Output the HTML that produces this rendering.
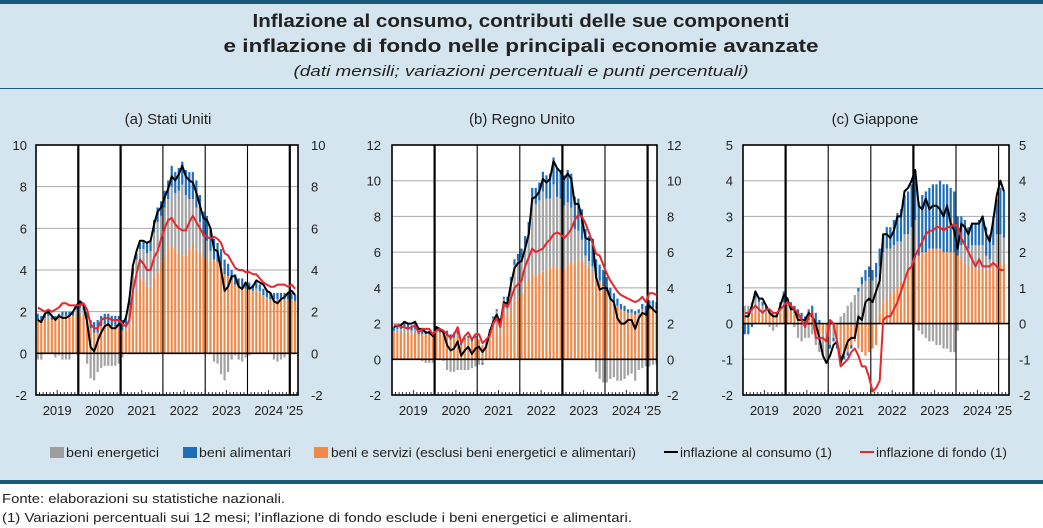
<!DOCTYPE html>
<html><head><meta charset="utf-8"><style>
body{margin:0;background:#fff;}
svg{display:block;font-family:"Liberation Sans",sans-serif;}
</style></head><body>
<svg id="chart" width="1043" height="528" viewBox="0 0 1043 528" xmlns="http://www.w3.org/2000/svg">
<rect x="0" y="0" width="1043" height="482" fill="#d5e5ef"/>
<rect x="0" y="0" width="1043" height="4" fill="#1b5a7a"/>
<rect x="0" y="88" width="1043" height="1" fill="#1b5a7a"/>
<rect x="0" y="480" width="1043" height="4" fill="#1b5a7a"/>
<text x="521" y="27" text-anchor="middle" font-weight="bold" font-size="18" textLength="537" lengthAdjust="spacingAndGlyphs" fill="#222">Inflazione al consumo, contributi delle sue componenti</text>
<text x="521" y="52" text-anchor="middle" font-weight="bold" font-size="18" textLength="595" lengthAdjust="spacingAndGlyphs" fill="#222">e inflazione di fondo nelle principali economie avanzate</text>
<text x="521" y="76" text-anchor="middle" font-style="italic" font-size="15" textLength="455" lengthAdjust="spacingAndGlyphs" fill="#222">(dati mensili; variazioni percentuali e punti percentuali)</text>
<g id="panels"></g>
<g>
<rect x="50" y="447" width="14" height="11" fill="#9e9e9e"/>
<text x="66" y="457" font-size="13" textLength="93" lengthAdjust="spacingAndGlyphs" fill="#222">beni energetici</text>
<rect x="183" y="447" width="14" height="11" fill="#1f6fb8"/>
<text x="199" y="457" font-size="13" textLength="92" lengthAdjust="spacingAndGlyphs" fill="#222">beni alimentari</text>
<rect x="314" y="447" width="14" height="11" fill="#f08a4b"/>
<text x="331" y="457" font-size="13" textLength="305" lengthAdjust="spacingAndGlyphs" fill="#222">beni e servizi (esclusi beni energetici e alimentari)</text>
<rect x="664" y="451" width="14" height="2" fill="#000"/>
<text x="680" y="457" font-size="13" textLength="152" lengthAdjust="spacingAndGlyphs" fill="#222">inflazione al consumo (1)</text>
<rect x="860" y="451" width="14" height="2" fill="#e8262e"/>
<text x="876" y="457" font-size="13" textLength="131" lengthAdjust="spacingAndGlyphs" fill="#222">inflazione di fondo (1)</text>
</g>
<text x="2" y="503" font-size="13" textLength="283" lengthAdjust="spacingAndGlyphs" fill="#222">Fonte: elaborazioni su statistiche nazionali.</text>
<text x="2" y="522" font-size="13" textLength="630" lengthAdjust="spacingAndGlyphs" fill="#222">(1) Variazioni percentuali sui 12 mesi; l’inflazione di fondo esclude i beni energetici e alimentari.</text>
</svg>
<script>
const yearLabels = ["2019","2020","2021","2022","2023","2024","'25"];
const panelTitles = ["(a) Stati Uniti","(b) Regno Unito","(c) Giappone"];
const yTicksUS = [-2,0,2,4,6,8,10];
const yTicksUK = [-2,0,2,4,6,8,10,12];
const yTicksJP = [-2,-1,0,1,2,3,4,5];

const usHeadline = [1.6,1.5,1.9,2.0,1.8,1.6,1.8,1.7,1.7,1.8,2.0,2.3, 2.5,2.3,1.5,0.3,0.1,0.6,1.0,1.3,1.4,1.2,1.2,1.4, 1.4,1.7,2.6,4.2,4.9,5.4,5.4,5.3,5.4,6.2,6.8,7.0, 7.5,7.9,8.5,8.3,8.6,9.0,8.5,8.3,8.2,7.7,7.1,6.5, 6.4,6.0,5.0,4.9,4.0,3.0,3.2,3.7,3.7,3.2,3.1,3.4, 3.1,3.2,3.5,3.4,3.3,3.0,2.9,2.5,2.4,2.6,2.7,2.9, 3.0,2.8];
const usCore = [2.2,2.1,2.0,2.1,2.0,2.1,2.2,2.4,2.4,2.3,2.3,2.3, 2.3,2.4,2.1,1.4,1.2,1.2,1.6,1.7,1.7,1.6,1.6,1.6, 1.4,1.3,1.6,3.0,3.8,4.5,4.3,4.0,4.0,4.6,4.9,5.5, 6.0,6.4,6.5,6.2,6.0,5.9,5.9,6.3,6.6,6.3,6.0,5.7, 5.6,5.5,5.6,5.5,5.3,4.8,4.7,4.4,4.1,4.0,4.0,3.9, 3.9,3.8,3.8,3.6,3.4,3.3,3.2,3.2,3.3,3.3,3.3,3.2, 3.3,3.1];
const usCoreContrib = [1.6,1.6,1.6,1.6,1.6,1.6,1.7,1.8,1.8,1.8,1.8,1.8, 1.8,1.9,1.7,1.2,1.0,1.0,1.3,1.4,1.4,1.3,1.3,1.3, 1.1,1.1,1.3,2.4,3.0,3.6,3.5,3.2,3.2,3.7,3.9,4.4, 4.8,5.1,5.2,5.0,4.8,4.7,4.7,5.0,5.3,5.0,4.8,4.6, 4.5,4.4,4.5,4.4,4.2,3.8,3.7,3.5,3.3,3.2,3.2,3.1, 3.1,3.0,3.0,2.9,2.7,2.6,2.6,2.6,2.6,2.6,2.6,2.6, 2.6,2.5];
const usEnergy = [-0.3,-0.3,0.1,0.2,0.0,-0.2,-0.1,-0.3,-0.3,-0.3,0.0,0.3, 0.4,0.2,-0.5,-1.2,-1.3,-0.9,-0.7,-0.6,-0.6,-0.6,-0.6,-0.5, -0.2,0.3,1.0,1.4,1.5,1.4,1.5,1.6,1.7,2.1,2.4,2.2, 2.2,2.3,2.8,2.7,3.0,3.4,2.9,2.4,2.1,2.0,1.5,1.0, 0.9,0.5,-0.4,-0.5,-1.0,-1.3,-0.9,-0.3,-0.1,-0.3,-0.4,-0.2, -0.1,0.0,0.1,0.1,0.1,0.1,0.0,-0.3,-0.4,-0.3,-0.2,0.0, 0.0,0.0];
const usFood = [0.3,0.2,0.2,0.2,0.2,0.2,0.2,0.2,0.2,0.2,0.2,0.2, 0.2,0.2,0.3,0.4,0.5,0.6,0.5,0.5,0.5,0.5,0.5,0.5, 0.5,0.4,0.4,0.3,0.3,0.3,0.4,0.5,0.5,0.6,0.7,0.7, 0.8,0.9,1.0,1.0,1.1,1.1,1.2,1.3,1.3,1.3,1.3,1.2, 1.2,1.1,1.0,0.9,0.8,0.7,0.6,0.5,0.5,0.4,0.4,0.3, 0.3,0.3,0.3,0.3,0.3,0.3,0.3,0.3,0.3,0.3,0.3,0.3, 0.3,0.3];

const ukHeadline = [1.8,1.9,1.9,2.1,2.0,2.0,2.1,1.7,1.7,1.5,1.5,1.3, 1.8,1.7,1.5,0.8,0.5,0.6,1.0,0.2,0.5,0.7,0.3,0.6, 0.7,0.4,0.7,1.5,2.1,2.5,2.0,3.2,3.1,4.2,5.1,5.4, 5.5,6.2,7.0,9.0,9.1,9.4,10.1,9.9,10.1,11.1,10.7,10.5, 10.1,10.4,10.1,8.7,8.7,7.9,6.8,6.7,6.7,4.6,3.9,4.0, 4.0,3.4,3.2,2.3,2.0,2.0,2.2,2.2,1.7,2.3,2.6,2.5, 3.0,2.8,2.6];
const ukCore = [1.9,1.9,1.8,1.8,1.7,1.8,1.9,1.5,1.7,1.7,1.7,1.4, 1.6,1.7,1.6,1.4,1.2,1.4,1.8,0.9,1.3,1.5,1.1,1.4, 1.4,0.9,1.1,1.3,2.0,2.3,1.8,3.1,2.9,3.4,4.0,4.2, 4.4,5.2,5.7,6.2,6.0,6.1,6.2,6.5,6.7,7.0,7.1,7.0, 6.8,7.0,7.3,7.8,8.1,8.0,7.6,7.1,6.5,5.9,5.8,5.3, 4.8,4.4,4.1,3.8,3.6,3.5,3.4,3.3,3.2,3.3,3.5,3.2, 3.7,3.7,3.6];
const ukCoreContrib = [1.5,1.5,1.5,1.5,1.5,1.4,1.5,1.4,1.4,1.4,1.4,1.3, 1.5,1.5,1.4,1.3,1.1,1.2,1.4,0.8,1.1,1.2,1.0,1.2, 1.1,0.8,1.0,1.1,1.6,1.9,1.5,2.6,2.4,2.9,3.3,3.5, 3.7,4.2,4.5,4.8,4.7,4.8,4.9,5.0,5.1,5.2,5.1,5.0, 5.0,5.3,5.5,5.4,5.6,5.5,5.3,5.0,4.8,4.5,4.4,4.1, 3.8,3.4,3.2,3.0,2.8,2.7,2.6,2.6,2.5,2.6,2.8,2.6, 2.9,2.9,2.8];
const ukEnergy = [0.1,0.2,0.2,0.3,0.2,0.2,0.2,0.0,-0.1,-0.2,-0.2,-0.2, 0.1,0.0,-0.1,-0.6,-0.7,-0.7,-0.6,-0.6,-0.6,-0.6,-0.5,-0.4, -0.3,-0.2,0.0,0.6,0.7,0.8,0.7,0.8,0.9,1.5,2.0,2.0, 2.0,2.1,2.5,4.0,4.0,4.1,4.5,4.0,3.9,4.6,4.0,4.0, 3.6,3.5,3.0,1.9,1.6,1.2,0.5,0.5,0.4,-0.7,-1.1,-1.3, -1.3,-1.1,-1.0,-1.2,-1.2,-1.1,-0.9,-0.8,-1.2,-0.6,-0.5,-0.4, -0.4,-0.3,-0.3];
const ukFood = [0.2,0.2,0.2,0.3,0.3,0.3,0.3,0.2,0.2,0.2,0.2,0.2, 0.2,0.2,0.2,0.3,0.3,0.3,0.2,0.1,0.1,0.1,0.1,0.1, 0.0,-0.1,0.0,0.0,0.1,0.1,0.1,0.1,0.2,0.2,0.3,0.4, 0.5,0.6,0.7,0.8,0.9,1.0,1.1,1.3,1.4,1.5,1.6,1.6, 1.7,1.8,1.9,1.8,1.8,1.7,1.5,1.4,1.3,1.1,0.9,0.9, 0.8,0.6,0.5,0.4,0.3,0.3,0.2,0.2,0.2,0.2,0.3,0.4, 0.4,0.4,0.4];

const jpHeadline = [0.2,0.2,0.5,0.9,0.7,0.7,0.5,0.3,0.2,0.2,0.5,0.8, 0.7,0.4,0.4,0.1,0.1,0.1,0.3,0.2,0.0,-0.4,-0.9,-1.1, -0.9,-0.6,-0.5,-1.1,-0.8,-0.5,-0.4,-0.4,0.2,0.1,0.6,0.7, 0.6,0.9,1.2,2.5,2.5,2.4,2.6,3.0,3.0,3.7,3.8,4.0, 4.3,3.3,3.2,3.5,3.2,3.3,3.3,3.2,3.0,3.3,2.8,2.6, 2.1,2.8,2.7,2.5,2.8,2.8,2.8,3.0,2.5,2.3,2.9,3.6, 4.0,3.7];
const jpCore = [0.3,0.3,0.4,0.5,0.4,0.3,0.4,0.4,0.3,0.3,0.4,0.5, 0.6,0.5,0.4,0.3,0.1,-0.1,0.2,0.3,-0.4,-0.4,-0.4,-0.5, 0.1,0.0,-0.5,-1.2,-1.1,-1.0,-0.8,-0.7,-0.9,-1.2,-1.2,-1.5, -1.9,-1.8,-1.6,0.1,0.2,0.2,0.4,0.6,0.9,1.2,1.5,1.6, 1.9,2.1,2.3,2.5,2.6,2.6,2.7,2.7,2.6,2.7,2.7,2.8, 2.7,2.4,2.2,2.0,1.8,1.6,1.8,1.6,1.6,1.6,1.7,1.6, 1.5,1.5];
const jpCoreContrib = [0.3,0.3,0.3,0.4,0.3,0.3,0.3,0.3,0.3,0.2,0.3,0.4, 0.4,0.4,0.3,0.2,0.1,0.0,0.1,0.2,-0.3,-0.3,-0.3,-0.4, 0.1,0.0,-0.4,-0.9,-0.9,-0.8,-0.6,-0.5,-0.7,-0.8,-0.9,-0.8, -0.7,-0.6,0.3,0.6,0.7,0.8,0.9,1.0,1.2,1.3,1.4,1.5, 1.7,1.9,2.0,2.0,2.1,2.1,2.1,2.1,2.0,2.0,2.0,2.0, 1.9,1.8,1.7,1.6,1.6,1.5,1.5,1.5,1.5,1.5,1.6,1.7, 1.7,1.7];
const jpEnergy = [0.2,0.2,0.3,0.3,0.3,0.2,0.1,-0.1,-0.2,-0.1,0.1,0.2, 0.2,0.0,-0.1,-0.4,-0.5,-0.4,-0.4,-0.3,-0.3,-0.5,-0.6,-0.6, -0.6,-0.4,-0.1,0.2,0.3,0.5,0.6,0.8,0.9,1.1,1.2,1.3, 1.2,1.3,1.3,1.4,1.4,1.3,1.3,1.3,1.1,1.2,1.1,1.2, 1.2,-0.2,-0.3,-0.4,-0.5,-0.5,-0.6,-0.6,-0.7,-0.7,-0.8,-0.8, -0.2,0.4,0.5,0.5,0.6,0.7,0.7,0.7,0.4,0.3,0.6,0.8, 0.8,0.7];
const jpFood = [-0.3,-0.3,-0.1,0.1,0.1,0.1,0.1,0.0,0.0,0.1,0.2,0.3, 0.1,0.2,0.2,0.2,0.2,0.2,0.3,0.3,0.3,0.1,0.0,0.0, -0.1,-0.1,-0.2,-0.2,-0.1,-0.1,-0.1,0.0,0.1,0.2,0.3,0.3, 0.3,0.4,0.5,0.5,0.6,0.6,0.7,0.8,0.9,1.1,1.2,1.2, 1.4,1.5,1.6,1.7,1.7,1.8,1.8,1.9,1.9,1.9,1.8,1.7, 1.1,0.8,0.7,0.6,0.6,0.6,0.7,0.8,0.8,0.7,0.8,1.0, 1.3,1.3];

const NS = "http://www.w3.org/2000/svg";
const root = document.getElementById("panels");
function mk(tag, attrs, parent){
  const e = document.createElementNS(NS, tag);
  for (const k in attrs) e.setAttribute(k, attrs[k]);
  (parent||root).appendChild(e);
  return e;
}
const C_ENERGY="#a3a3a3", C_FOOD="#1f6fb8", C_CORE="#f08a4b";

function drawPanel(cfg){
  const {key,title,x0,x1,monthW,yMin,yMax,ticks,thick,headline,core,coreC,energy,food,titleX,leftLabX,rightLabX} = cfg;
  const top=145, bottom=395;
  const g = mk("g",{});
  
  
  const ys = v => bottom - (v - yMin) / (yMax - yMin) * (bottom - top);
  const xs = i => x0 + (i + 0.5) * monthW;
  const xm = i => x0 + i * monthW;
  const t = mk("text",{x:titleX,y:124,"text-anchor":"middle","font-size":15,fill:"#222"},g);
  t.textContent = title;
  
  
  const bg = mk("rect",{x:x0,y:top,width:x1-x0,height:bottom-top,fill:"#fff"},g);
  
  
  ticks.forEach(v=>{
    if (v!==yMin && v!==0 && v!==yMax) {
      const gl = mk("line",{x1:x0,x2:x1,y1:ys(v),y2:ys(v),stroke:"#a8a8a8","stroke-width":1},g);
      
      
    }
    const l = mk("text",{x:leftLabX,y:ys(v)+5,"text-anchor":"end","font-size":13,fill:"#222"},g);
    l.textContent = String(v);
    
    
    const r = mk("text",{x:rightLabX,y:ys(v)+5,"text-anchor":"start","font-size":13,fill:"#222"},g);
    r.textContent = String(v);
    
    
  });
  // bars
  for (let i=0;i<headline.length;i++){
    let pos=0, neg=0;
    [[coreC[i],C_CORE,'core-bar'],[energy[i],C_ENERGY,'energy-bar'],[food[i],C_FOOD,'food-bar']].forEach(([v,c,n])=>{
      let yA,yB;
      if (v>=0){ yA=ys(pos+v); yB=ys(pos); pos+=v; } else { yA=ys(neg); yB=ys(neg+v); neg+=v; }
      if (Math.abs(yB-yA)<0.01) return;
      const b = mk("rect",{x:xs(i)-1.1,y:yA,width:2.2,height:yB-yA,fill:c},g);
      
      
    });
  }
  // year lines
  for (let y=0;y<=6;y++){
    if (y===0) continue;
    const X = xm(y*12);
    const vl = mk("line",{x1:X,x2:X,y1:top,y2:bottom,stroke:"#000","stroke-width":thick.includes(y)?2.2:1.1},g);
    
    
  }
  // month ticks
  for (let i=0;i<=headline.length;i++){
    const tk = mk("line",{x1:xm(i),x2:xm(i),y1:bottom,y2:bottom-(i%6===0?5:3),stroke:"#000","stroke-width":0.8},g);
    
    
  }
  const z = mk("line",{x1:x0,x2:x1,y1:ys(0),y2:ys(0),stroke:"#000","stroke-width":1.6},g);
  
  
  const fr = mk("rect",{x:x0,y:top,width:x1-x0,height:bottom-top,fill:"none",stroke:"#000","stroke-width":1.6},g);
  
  
  // lines
  const pts = arr => arr.map((v,i)=>xs(i).toFixed(1)+","+ys(v).toFixed(1)).join(" ");
  const hl = mk("polyline",{points:pts(headline),fill:"none",stroke:"#000","stroke-width":2,"stroke-linejoin":"round"},g);
  
  
  const cl = mk("polyline",{points:pts(core),fill:"none",stroke:"#e8262e","stroke-width":2,"stroke-linejoin":"round"},g);
  
  
  // year labels
  yearLabels.forEach((lab,y)=>{
    const cx = y<6 ? xm(y*12+6) : xm(72) + 5;
    const tx = mk("text",{x:cx,y:415,"text-anchor":"middle","font-size":13,fill:"#222"},g);
    tx.textContent = lab;
    
    
  });
}

drawPanel({key:"us",title:panelTitles[0],x0:36,x1:298,monthW:42.3/12,yMin:-2,yMax:10,ticks:yTicksUS,thick:[1,2,6],
  headline:usHeadline,core:usCore,coreC:usCoreContrib,energy:usEnergy,food:usFood,titleX:168,leftLabX:27,rightLabX:311});
drawPanel({key:"uk",title:panelTitles[1],x0:392,x1:657,monthW:42.6/12,yMin:-2,yMax:12,ticks:yTicksUK,thick:[1,4,6],
  headline:ukHeadline,core:ukCore,coreC:ukCoreContrib,energy:ukEnergy,food:ukFood,titleX:522,leftLabX:381,rightLabX:667});
drawPanel({key:"jp",title:panelTitles[2],x0:743,x1:1009,monthW:42.6/12,yMin:-2,yMax:5,ticks:yTicksJP,thick:[1,4],
  headline:jpHeadline,core:jpCore,coreC:jpCoreContrib,energy:jpEnergy,food:jpFood,titleX:875,leftLabX:733,rightLabX:1019});
</script>
</body></html>
